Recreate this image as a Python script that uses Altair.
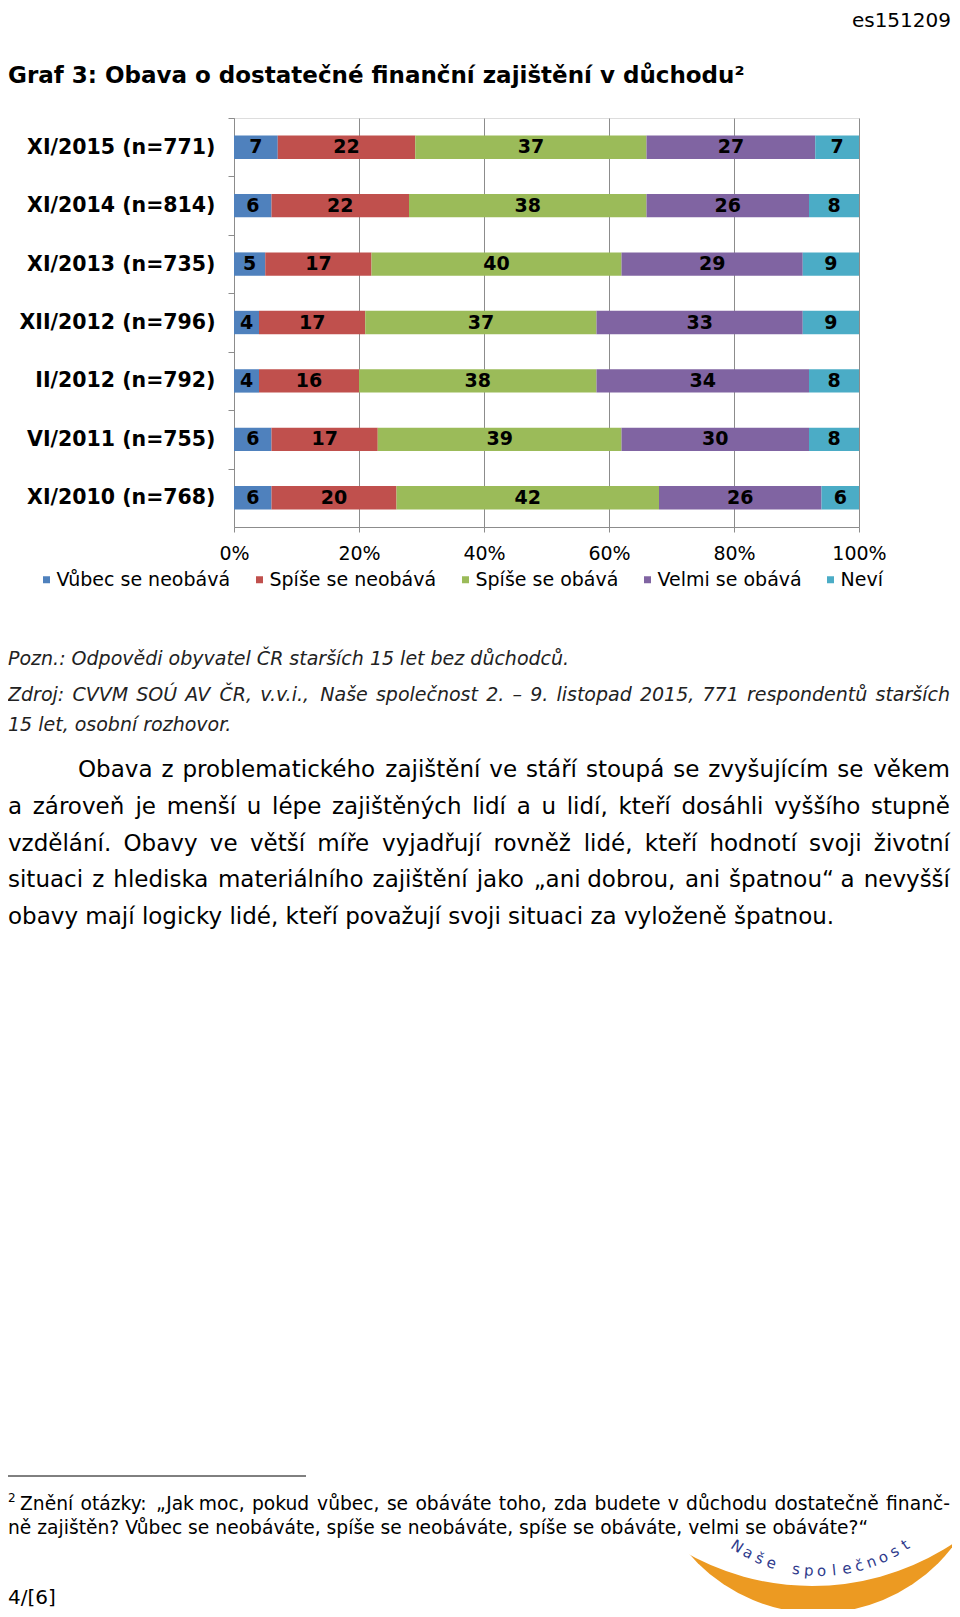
import altair as alt
import pandas as pd
import math
import unicodedata

# ---------------- data ----------------
categories = ["XI/2015 (n=771)", "XI/2014 (n=814)", "XI/2013 (n=735)",
              "XII/2012 (n=796)", "II/2012 (n=792)", "VI/2011 (n=755)",
              "XI/2010 (n=768)"]
series = ["Vůbec se neobává", "Spíše se neobává", "Spíše se obává",
          "Velmi se obává", "Neví"]
vubec = [7, 6, 5, 4, 4, 6, 6]
spise_neobava = [22, 22, 17, 17, 16, 17, 20]
spise_obava = [37, 38, 40, 37, 38, 39, 42]
velmi = [27, 26, 29, 33, 34, 30, 26]
nevi = [7, 8, 9, 9, 8, 8, 6]
colors = ["#4F81BD", "#C0504D", "#9BBB59", "#8064A2", "#4BACC6"]
x_ticks = [0, 20, 40, 60, 80, 100]

header_code = "es151209"
title_text = "Graf 3: Obava o dostatečné finanční zajištění v důchodu²"
note_lines = ["Pozn.: Odpovědi obyvatel ČR starších 15 let bez důchodců.",
              "Zdroj: CVVM SOÚ AV ČR, v.v.i., Naše společnost 2. – 9. listopad 2015, 771 respondentů starších",
              "15 let, osobní rozhovor."]
para_lines = ["Obava z problematického zajištění ve stáří stoupá se zvyšujícím se věkem",
              "a zároveň je menší u lépe zajištěných lidí a u lidí, kteří dosáhli vyššího stupně",
              "vzdělání. Obavy ve větší míře vyjadřují rovněž lidé, kteří hodnotí svoji životní",
              "situaci z hlediska materiálního zajištění jako „ani dobrou, ani špatnou“ a nevyšší",
              "obavy mají logicky lidé, kteří považují svoji situaci za vyloženě špatnou."]
foot_mark = "2"
foot_lines = ["Znění otázky: „Jak moc, pokud vůbec, se obáváte toho, zda budete v důchodu dostatečně finanč-",
              "ně zajištěn? Vůbec se neobáváte, spíše se neobáváte, spíše se obáváte, velmi se obáváte?“"]
page_no = "4/[6]"
logo_text = "Naše společnost"

# ---------------- bar table ----------------
values = [vubec, spise_neobava, spise_obava, velmi, nevi]
rows = []
for i, cat in enumerate(categories):
    start = 0
    for j, s in enumerate(series):
        v = values[j][i]
        rows.append({"cat": cat, "series": s, "idx": j, "val": v,
                     "start": start, "end": start + v, "mid": start + v / 2})
        start += v
df = pd.DataFrame(rows)

FONT = "DejaVu Sans"
W, H = 625, 409
step = H / len(categories)
OX, OY = 234, 118  # page position of the plot origin
LEFT, RIGHT = 8, 950
SVG_W, SVG_H = 944, 1601

# ---------------- text width estimate (DejaVu Sans, em units) ----------------
CW = {' ': .318, 'a': .613, 'b': .635, 'c': .550, 'd': .635, 'e': .615, 'f': .352,
      'g': .635, 'h': .634, 'i': .278, 'j': .278, 'k': .579, 'l': .278, 'm': .974,
      'n': .634, 'o': .612, 'p': .635, 'q': .635, 'r': .411, 's': .521, 't': .392,
      'u': .634, 'v': .592, 'w': .818, 'x': .592, 'y': .592, 'z': .525, ',': .318,
      '.': .318, ':': .337, '?': .531, '-': .361, '–': .5, '„': .41, '“': .41,
      '(': .39, ')': .39, '/': .337, 'A': .684, 'C': .698, 'M': .863, 'N': .748,
      'O': .787, 'P': .603, 'R': .695, 'S': .635, 'U': .732, 'V': .684, 'Z': .685,
      'J': .295}


def word_width(w, size):
    tot = 0
    for ch in w:
        if ch.isdigit():
            tot += .636
            continue
        base = unicodedata.normalize("NFD", ch)[0]
        tot += CW.get(ch, CW.get(base, .6))
    return tot * size


text_rows = []


def add_line(line, x0, y, size, weight="normal", style="normal", color="#000000",
             justify_to=None, align="left"):
    if justify_to is None:
        text_rows.append(dict(t=line, px=x0 - OX, py=y - OY, size=size, weight=weight,
                              style=style, color=color, align=align))
        return
    words = line.split(" ")
    widths = [word_width(w, size) for w in words]
    gap = (justify_to - x0 - sum(widths)) / (len(words) - 1)
    x = x0
    for k, w in enumerate(words):
        if k == len(words) - 1:
            text_rows.append(dict(t=w, px=justify_to - OX, py=y - OY, size=size,
                                  weight=weight, style=style, color=color, align="right"))
        else:
            text_rows.append(dict(t=w, px=x - OX, py=y - OY, size=size, weight=weight,
                                  style=style, color=color, align="left"))
        x += widths[k] + gap


add_line(header_code, RIGHT + 1, 21, 20, align="right")
add_line(title_text, LEFT, 76, 23, weight="bold")
add_line(note_lines[0], LEFT, 659, 19, style="italic", color="#222222")
add_line(note_lines[1], LEFT, 695, 19, style="italic", color="#222222", justify_to=RIGHT)
add_line(note_lines[2], LEFT, 725, 19, style="italic", color="#222222")
for k, yy in enumerate([770, 807, 844, 880, 917]):
    x0 = 78 if k == 0 else LEFT
    add_line(para_lines[k], x0, yy, 23, justify_to=(RIGHT if k < 4 else None))
add_line(foot_mark, LEFT, 1498, 12)
add_line(foot_lines[0], 20, 1504, 18.7, justify_to=RIGHT)
add_line(foot_lines[1], LEFT, 1528, 18.7)
add_line(page_no, LEFT, 1598, 20)
tdf = pd.DataFrame(text_rows)

# ---------------- chart layers ----------------
xscale = alt.Scale(domain=[0, 100], nice=False, zero=True)
yscale = alt.Scale(domain=categories, paddingInner=0.6, paddingOuter=0.3)

bars = alt.Chart(df).mark_bar().encode(
    x=alt.X("start:Q", scale=xscale,
            axis=alt.Axis(values=x_ticks, labelExpr="datum.value + '%'",
                          title=None, grid=True, gridColor="#8C8C8C",
                          domainColor="#8C8C8C", tickColor="#8C8C8C",
                          tickSize=5, labelFontSize=19, labelFont=FONT,
                          labelColor="#000000", labelPadding=12, labelFlush=False)),
    x2="end:Q",
    y=alt.Y("cat:N", scale=yscale, sort=categories,
            axis=alt.Axis(title=None, labelFont=FONT, labelFontWeight="bold",
                          labelFontSize=20.5, labelColor="#000000", labelLimit=400,
                          domainColor="#8C8C8C", tickColor="#8C8C8C",
                          tickSize=6, tickOffset=-step / 2,
                          labelOffset=step / 2, labelPadding=13)),
    color=alt.Color("series:N", scale=alt.Scale(domain=series, range=colors),
                    legend=alt.Legend(title=None, orient="none", direction="horizontal",
                                      legendX=-197, legendY=452,
                                      symbolType="square", symbolSize=49,
                                      symbolStrokeWidth=0, labelFont=FONT,
                                      labelFontSize=19, labelColor="#000000",
                                      labelLimit=400, labelOffset=0.5, columnPadding=19)),
    order=alt.Order("idx:Q"),
)

bar_labels = alt.Chart(df).mark_text(font=FONT, fontSize=19, fontWeight="bold",
                                     color="#000000").encode(
    x=alt.X("mid:Q", scale=xscale),
    y=alt.Y("cat:N", scale=yscale, sort=categories),
    text="val:Q",
)

layers = [bars, bar_labels]

# footnote separator
layers.append(alt.Chart(pd.DataFrame({"a": [0]})).mark_rule(color="#000000", strokeWidth=1).encode(
    x=alt.value(LEFT - OX), x2=alt.value(306 - OX), y=alt.value(1476 - OY)))

# logo (decorative crescent): orange disc part minus a white disc part
layers.append(alt.Chart(pd.DataFrame({"a": [0]})).mark_arc(
    color="#EC9A22", radius=170, theta=math.pi / 2, theta2=3 * math.pi / 2).encode(
    x=alt.value(818 - OX), y=alt.value(1443 - OY)))
layers.append(alt.Chart(pd.DataFrame({"a": [0]})).mark_arc(
    color="#FFFFFF", radius=256, theta=math.pi - 1.08, theta2=math.pi + 1.08).encode(
    x=alt.value(812 - OX), y=alt.value(1330 - OY)))

# logo letters along an arc
lcx, lcy, lr = 820, 1420, 151
phi0, phi1 = -0.58, 0.60
lrows = []
n = len(logo_text)
for k, ch in enumerate(logo_text):
    phi = phi0 + (phi1 - phi0) * k / (n - 1)
    lrows.append({"t": ch, "px": lcx + lr * math.sin(phi) - OX,
                  "py": lcy + lr * math.cos(phi) - OY,
                  "ang": (-math.degrees(phi)) % 360})
ldf = pd.DataFrame(lrows)
layers.append(alt.Chart(ldf).mark_text(font=FONT, fontSize=15, color="#2E3A8C",
                                       align="center", baseline="middle").encode(
    x=alt.X("px:Q", scale=None, axis=None),
    y=alt.Y("py:Q", scale=None, axis=None),
    angle=alt.Angle("ang:Q", scale=None),
    text="t:N"))

# all page text
for key, g in tdf.groupby(["size", "weight", "style", "color", "align"]):
    size, weight, style, color, align = key
    layers.append(alt.Chart(g.reset_index(drop=True)).mark_text(
        font=FONT, fontSize=float(size), fontWeight=weight, fontStyle=style,
        color=color, align=align, baseline="middle").encode(
        x=alt.X("px:Q", scale=None, axis=None),
        y=alt.Y("py:Q", scale=None, axis=None),
        text="t:N"))

chart = alt.layer(*layers).properties(
    width=W, height=H,
    padding={"left": OX - 8, "top": OY - 8, "right": SVG_W - (OX - 8) - W,
             "bottom": SVG_H - (OY - 8) - H},
    autosize=alt.AutoSizeParams(type="none"),
    background="#FFFFFF",
).configure_view(stroke=None).configure(font=FONT)

chart.save("out.html", embed_options={"renderer": "svg", "actions": False})
